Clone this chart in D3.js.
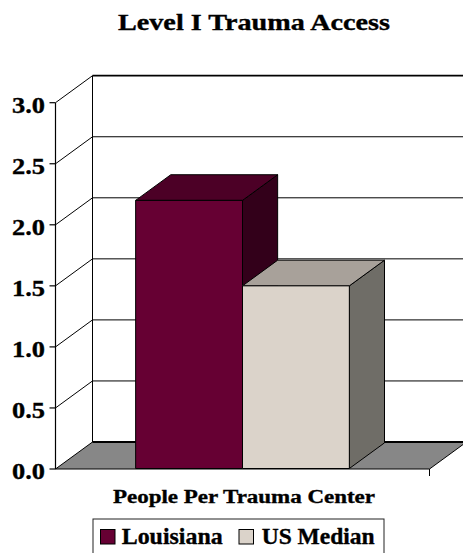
<!DOCTYPE html>
<html>
<head>
<meta charset="utf-8">
<script src="https://cdn.jsdelivr.net/npm/d3@7"></script>
<style>
  html, body { margin: 0; padding: 0; background: #fff; }
  svg { display: block; }
  text { font-family: "Liberation Serif", "Times New Roman", serif; font-weight: bold; fill: #000; stroke: #000; stroke-width: 0.35px; }
</style>
</head>
<body>
<svg id="chart" width="463" height="553"></svg>
<script>
// Chart data
const categories = ["People Per Trauma Center"];
const seriesNames = ["Louisiana", "US Median"];
const seriesValues = [2.2, 1.5];
const yTickValues = [0, 0.5, 1.0, 1.5, 2.0, 2.5, 3.0];
const chartTitle = "Level I Trauma Access";

// Face colours per series: front, top, side
const faceColors = {
  "Louisiana": { front: "#660033", top: "#4c0026", side: "#33001a" },
  "US Median": { front: "#dbd3ca", top: "#a8a19a", side: "#6f6d67" }
};

const svg = d3.select("#chart");

// Oblique projection of the depth axis
const DX = 37, DY = -27;
const proj = (px, py, z) => [px + z * DX, py + z * DY];

const y = d3.scaleLinear().domain([0, 3]).range([469, 102.7]);
const xCat = d3.scaleBand().domain(categories).range([55.5, 429.5]).padding(0);
const xSeries = d3.scaleBand().domain(seriesNames)
  .range([xCat(categories[0]), xCat(categories[0]) + xCat.bandwidth()])
  .paddingInner(0).paddingOuter(0.75);

const x0 = xCat.range()[0], x1 = xCat.range()[1];
const yMin = y(0), yMax = y(3);

// Back wall
const wall = svg.append("g");
wall.append("rect")
  .attr("x", x0 + DX).attr("y", yMax + DY)
  .attr("width", x1 - x0 + 10).attr("height", yMin - yMax)
  .attr("fill", "#fff");

// Gridlines on the back wall and matching lines on the left side wall
yTickValues.filter(v => v > 0).forEach(v => {
  const [bx, by] = proj(x0, y(v), 1);
  wall.append("line")
    .attr("x1", bx).attr("y1", by).attr("x2", x1 + DX + 5).attr("y2", by)
    .attr("stroke", "#000").attr("stroke-width", v === 3 ? 1.8 : 1);
  wall.append("line")
    .attr("x1", x0).attr("y1", y(v)).attr("x2", bx).attr("y2", by)
    .attr("stroke", "#000").attr("stroke-width", 1);
});

// Back vertical edge of the wall
wall.append("line")
  .attr("x1", x0 + DX).attr("y1", yMax + DY)
  .attr("x2", x0 + DX).attr("y2", yMin + DY)
  .attr("stroke", "#000").attr("stroke-width", 1);

// Floor
const floorPts = [proj(x0, yMin, 0), proj(x0, yMin, 1), proj(x1, yMin, 1), proj(x1, yMin, 0)];
svg.append("polygon")
  .attr("points", floorPts.map(p => p.join(",")).join(" "))
  .attr("fill", "#878787").attr("stroke", "#000").attr("stroke-width", 1);
svg.append("line")
  .attr("x1", x0 + DX).attr("y1", yMin + DY).attr("x2", x1 + DX + 5).attr("y2", yMin + DY)
  .attr("stroke", "#000").attr("stroke-width", 2);

// Value axis
svg.append("line")
  .attr("x1", x0).attr("y1", yMax).attr("x2", x0).attr("y2", yMin)
  .attr("stroke", "#000").attr("stroke-width", 1.2);
const yAxis = svg.append("g");
yTickValues.forEach(v => {
  yAxis.append("line")
    .attr("x1", x0 - 6).attr("y1", y(v)).attr("x2", x0).attr("y2", y(v))
    .attr("stroke", "#000").attr("stroke-width", 1.2);
  yAxis.append("text")
    .attr("x", 45).attr("y", y(v) + 10)
    .attr("text-anchor", "end")
    .attr("font-size", 23)
    .attr("textLength", 33).attr("lengthAdjust", "spacingAndGlyphs")
    .text(d3.format(".1f")(v));
});

// Category axis tick at the right end of the floor
svg.append("line")
  .attr("x1", x1).attr("y1", yMin).attr("x2", x1).attr("y2", yMin + 7)
  .attr("stroke", "#000").attr("stroke-width", 1);

// 3D bars, drawn left to right so faces overlap correctly
const depth = 0.95;
const bars = svg.append("g");
seriesNames.forEach((name, i) => {
  const v = seriesValues[i];
  const bx0 = xSeries(name), bx1 = bx0 + xSeries.bandwidth();
  const top = y(v), bottom = y(0) - 0.5;
  const c = faceColors[name];
  const poly = (pts, fill) => bars.append("polygon")
    .attr("points", pts.map(p => p.join(",")).join(" "))
    .attr("fill", fill).attr("stroke", "#000").attr("stroke-width", 1)
    .attr("stroke-linejoin", "round");
  // side
  poly([proj(bx1, bottom, 0), proj(bx1, top, 0), proj(bx1, top, depth), proj(bx1, bottom, depth)], c.side);
  // top
  poly([proj(bx0, top, 0), proj(bx0, top, depth), proj(bx1, top, depth), proj(bx1, top, 0)], c.top);
  // front
  poly([proj(bx0, bottom, 0), proj(bx0, top, 0), proj(bx1, top, 0), proj(bx1, bottom, 0)], c.front);
});

// Title
svg.append("text")
  .attr("x", 254).attr("y", 30)
  .attr("text-anchor", "middle")
  .attr("font-size", 23)
  .attr("textLength", 272).attr("lengthAdjust", "spacingAndGlyphs")
  .text(chartTitle);

// Category label
svg.append("text")
  .attr("x", 244).attr("y", 503)
  .attr("text-anchor", "middle")
  .attr("font-size", 18)
  .attr("textLength", 262).attr("lengthAdjust", "spacingAndGlyphs")
  .text(categories[0]);

// Legend
const legend = svg.append("g");
legend.append("rect")
  .attr("x", 93).attr("y", 519).attr("width", 291).attr("height", 45)
  .attr("fill", "#fff").attr("stroke", "#222").attr("stroke-width", 1);
const legendItems = [
  { sx: 100.5, tx: 121.7, tw: 101 },
  { sx: 239, tx: 261.7, tw: 113 }
];
seriesNames.forEach((name, i) => {
  const it = legendItems[i];
  legend.append("rect")
    .attr("x", it.sx).attr("y", 529.5).attr("width", 14.5).attr("height", 14.5)
    .attr("fill", faceColors[name].front).attr("stroke", "#000").attr("stroke-width", 1);
  legend.append("text")
    .attr("x", it.tx).attr("y", 544)
    .attr("font-size", 23)
    .attr("textLength", it.tw).attr("lengthAdjust", "spacingAndGlyphs")
    .text(name);
});
</script>
</body>
</html>
